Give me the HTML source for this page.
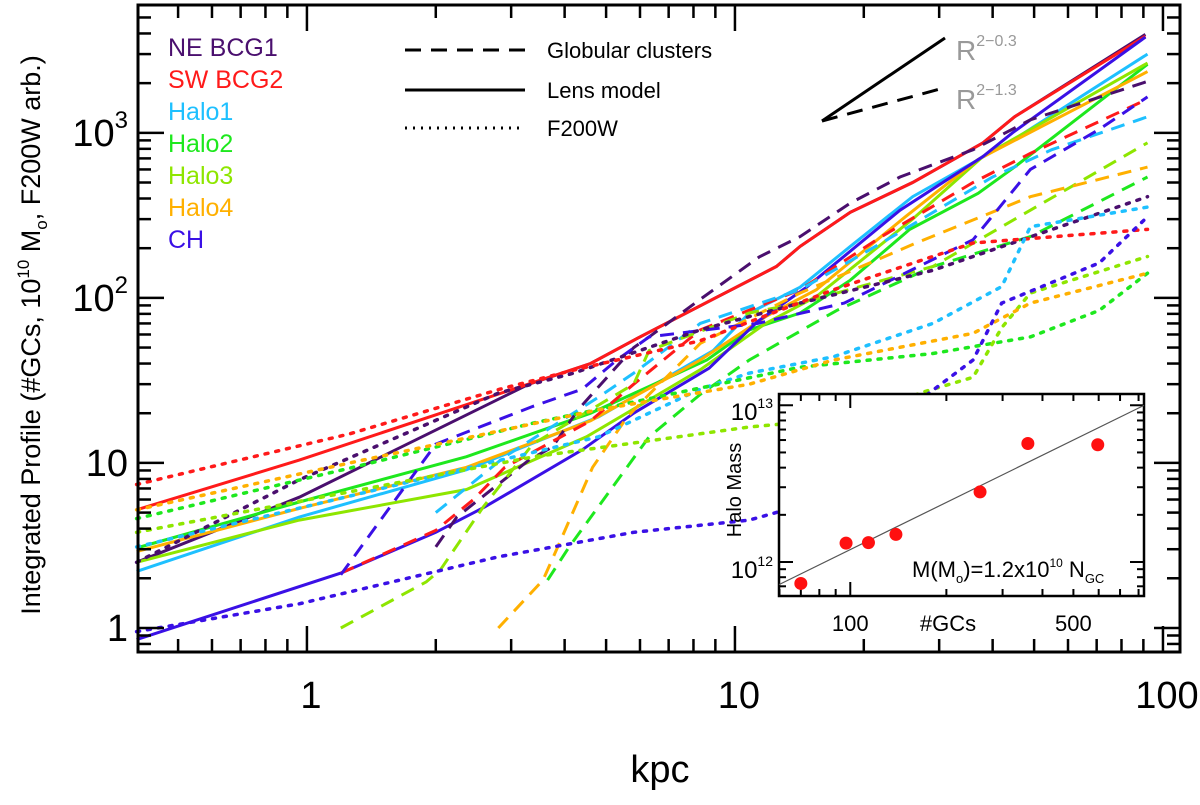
<!DOCTYPE html>
<html><head><meta charset="utf-8"><style>
body{margin:0;background:#fff}
svg text{font-family:"Liberation Sans",sans-serif}
</style></head><body>
<svg id="c" width="1200" height="800" xmlns="http://www.w3.org/2000/svg"></svg>
<script>
const kpc=[0.4,0.96,1.2,2,2.36,2.8,3.4,4.6,5.8,8.3,10.8,14.2,18.6,26,37,49,92];
const sRedX=[0.4,0.96,4.6,6.0,9.0,12.5,14.2,18.6,26,38,45,91];
const sRedY=[5.2,10.4,40,58,100,155,205,330,500,870,1250,3850];
const sPurX=[0.4,0.96,3.3,4.6,6.0,9.0,12.5,14.2,18.6,26,38,45,91];
const sPurY=[2.5,6.2,30,40,58,100,155,205,330,500,870,1250,3950];
const sChX=[0.4,1.2,2.0,2.6,4.4,5.8,8.7,11.3,14.7,24.3,38,44.5,91];
const sChY=[0.85,2.15,3.8,5.4,12,20,37.5,72,116,340,720,1000,3800];
const sH1X=[0.4,0.96,2.36,4.8,8.9,10.8,14.2,18.6,26,44.5,92];
const sH1Y=[2.2,4.7,9.1,19,48,81,116,205,410,900,3000];
const sH2X=[0.4,0.96,2.36,4.6,8.6,10.8,14.2,18.6,25.6,37,45,92];
const sH2Y=[3.05,5.8,10.9,20,42,64,81,128,260,430,620,2600];
const sH3X=[0.4,0.96,2.36,4.5,8.3,11.8,15.5,26,38,92];
const sH3Y=[2.5,4.5,6.9,14.4,36.7,70,102,300,720,2650];
const sH4X=[0.4,0.96,2.36,4.6,8.3,11.8,15.5,25,37,92];
const sH4Y=[2.9,5.3,9.4,18,42,77,112,310,690,2350];
const dPurX=[2.0,2.24,3.3,3.75,4.3,5.8,6.3,8.3,11.4,14.2,18.6,24.3,36,49,92];
const dPurY=[3.1,4.7,10.4,12.5,21,50,58,98,177,235,375,540,790,1200,2050];
const dRedX=[1.2,2.0,2.45,2.9,4.6,5.8,8.3,14.2,22,36,49,92];
const dRedY=[2.15,3.9,6,9.4,18,30,64,112,235,500,750,1600];
const dH1X=[2.0,2.9,4.8,5.8,8.3,14.2,22,40,55,92];
const dH1Y=[5,10.9,25,35,70,112,215,540,790,1250];
const dH2X=[3.65,4.1,6.3,8.3,10.8,17.3,29,49,92];
const dH2Y=[1.95,3.1,14.4,26,42,84,155,235,540];
const dH3X=[1.2,1.9,2.05,2.58,3.37,5.8,6.3,10.8,14.2,29,49,92];
const dH3Y=[1.0,1.9,2.25,5.4,13,30,48,81,93,155,340,870];
const dH4X=[2.8,3.56,3.8,4.65,5.6,6.3,8.3,14.2,26.5,49,92];
const dH4Y=[1.0,1.95,2.85,9.4,19,26,53,107,215,410,620];
const dChX=[1.2,2.0,3.37,4.4,5.3,6.3,11.3,18,36,49,71,92];
const dChY=[2.1,13,22,28,42,58,70,93,225,600,1050,1650];
const pPurX=[0.4,0.96,2.8,4.2,8.3,10.8,14.2,29,92];
const pPurY=[2.5,7.9,26.5,35,64,77,93,147,410];
const pRedX=[0.4,1.26,2.83,4.2,8.3,17,36,92];
const pRedY=[7.4,15,28,36.5,55,112,215,260];
const pH1X=[0.4,4.8,8.3,10.8,17,29,42,49,92];
const pH1Y=[3.1,14.4,28,35,44,70,117,270,355];
const pH2X=[0.4,1.26,3.4,8.6,14.2,29,49,71,92];
const pH2Y=[4.6,9.3,17.5,29,38,46,58,84,141];
const pH3X=[0.4,3.4,10.8,19.6,23,27,36,42,49,92];
const pH3Y=[3.8,10.9,16.5,19,21.5,26.5,33,66,107,178];
const pH4X=[0.4,1.26,4.8,10.8,17,36,49,92];
const pH4Y=[5.2,10,21,30,42,61,93,141];
const pChX=[0.4,0.96,2.8,5.8,10.8,14.2,18,23,27,36,42,71,92];
const pChY=[0.95,1.4,2.7,3.8,4.5,5.5,7.9,13,24,42,93,163,310];
const gcN=[70,97,114,139,255,360,596];
const haloM=[0.73e12,1.32e12,1.33e12,1.5e12,2.8e12,5.7e12,5.6e12];
const fitCoef=1.2e10;
const yTicks=[1,10,100,1000];
const xTicks=[1,10,100];
const legendNames=["NE BCG1","SW BCG2","Halo1","Halo2","Halo3","Halo4","CH"];
const legendColors=["#4a0f6e","#ff1a1a","#1ec0ff","#1ee81e","#8ee600","#ffb000","#3a10e6"];

const NS="http://www.w3.org/2000/svg";
const svg=document.getElementById('c');
const L=138,R=1180,T=5,B=652,XMIN=0.403,XMAX=109.6,YMIN=0.715,YMAX=5950;
const lg=Math.log10;
const xs=v=>L+(lg(v)-lg(XMIN))/(lg(XMAX)-lg(XMIN))*(R-L);
const ys=v=>B-(lg(v)-lg(YMIN))/(lg(YMAX)-lg(YMIN))*(B-T);
function el(t,a,p){const e=document.createElementNS(NS,t);for(const k in a)e.setAttribute(k,a[k]);(p||svg).appendChild(e);return e;}
const series=[
["ne-bcg1-lens",sPurX,sPurY,0,""],["sw-bcg2-lens",sRedX,sRedY,1,""],["halo1-lens",sH1X,sH1Y,2,""],["halo2-lens",sH2X,sH2Y,3,""],["halo3-lens",sH3X,sH3Y,4,""],["halo4-lens",sH4X,sH4Y,5,""],["ch-lens",sChX,sChY,6,""],
["ne-bcg1-gc",dPurX,dPurY,0,"14,9"],["sw-bcg2-gc",dRedX,dRedY,1,"14,9"],["halo1-gc",dH1X,dH1Y,2,"14,9"],["halo2-gc",dH2X,dH2Y,3,"14,9"],["halo3-gc",dH3X,dH3Y,4,"14,9"],["halo4-gc",dH4X,dH4Y,5,"14,9"],["ch-gc",dChX,dChY,6,"14,9"],
["ne-bcg1-f200w",pPurX,pPurY,0,"3,8"],["sw-bcg2-f200w",pRedX,pRedY,1,"3,8"],["halo1-f200w",pH1X,pH1Y,2,"3,8"],["halo2-f200w",pH2X,pH2Y,3,"3,8"],["halo3-f200w",pH3X,pH3Y,4,"3,8"],["halo4-f200w",pH4X,pH4Y,5,"3,8"],["ch-f200w",pChX,pChY,6,"3,8"]];
const g=el('g',{});


series.forEach(s=>{
  const d=s[1].map((x,i)=>(i?'L':'M')+xs(x).toFixed(1)+','+ys(s[2][i]).toFixed(1)).join('');
  const p=el('path',{d:d,fill:'none',stroke:legendColors[s[3]],'stroke-width':s[4]=="3,8"?3.5:3,'stroke-dasharray':s[4],'stroke-linecap':s[4]=="3,8"?'round':'butt'},g);
  
  
});
// axes box
const box=el('rect',{x:L,y:T,width:R-L,height:B-T,fill:'none',stroke:'#000','stroke-width':3});


for(let e=-1;e<=3;e++)for(let m=1;m<10;m++){const v=m*Math.pow(10,e);if(v<YMIN||v>YMAX)continue;const y=ys(v);const len=m==1?26:13;
 el('line',{x1:L,x2:L+len,y1:y,y2:y,stroke:'#000','stroke-width':2.5});el('line',{x1:R,x2:R-len,y1:y,y2:y,stroke:'#000','stroke-width':2.5});}
for(let e=-1;e<=2;e++)for(let m=1;m<10;m++){const v=m*Math.pow(10,e);if(v<XMIN||v>XMAX)continue;const x=xs(v);const len=m==1?26:13;
 el('line',{x1:x,x2:x,y1:B,y2:B-len,stroke:'#000','stroke-width':2.5});el('line',{x1:x,x2:x,y1:T,y2:T+len,stroke:'#000','stroke-width':2.5});}
yTicks.forEach(v=>{const t=el('text',{x:128,y:ys(v)+13,'font-size':38,'text-anchor':'end'});
 
 
 if(v>=100){t.textContent='10';const s=el('tspan',{'font-size':24,dy:-18},t);s.textContent=String(lg(v));}else t.textContent=String(v);});
xTicks.forEach(v=>{const t=el('text',{x:xs(v)+4,y:708,'font-size':38,'text-anchor':'middle'});t.textContent=String(v);
 
 });
const xt=el('text',{x:660,y:782,'font-size':38,'text-anchor':'middle'});xt.textContent='kpc';


const yt=el('text',{x:0,y:0,'font-size':27,'text-anchor':'middle',transform:'translate(40,335) rotate(-90)'});


yt.innerHTML='Integrated Profile (#GCs, 10<tspan font-size="17" dy="-11">10</tspan><tspan dy="11"> M</tspan><tspan font-size="17" dy="7">o</tspan><tspan dy="-7">, F200W arb.)</tspan>';
// legend
legendNames.forEach((n,i)=>{const t=el('text',{x:168,y:56+i*32,'font-size':25,fill:legendColors[i]});t.textContent=n;
 
 });
[["Globular clusters","16,10",50],["Lens model","",90],["F200W","2,6",128]].forEach(a=>{
 el('line',{x1:405,x2:525,y1:a[2],y2:a[2],stroke:'#000','stroke-width':3,'stroke-dasharray':a[1]});
 const t=el('text',{x:547,y:a[2]+8,'font-size':22});t.textContent=a[0];
 
 });
el('line',{x1:822,y1:121,x2:945,y2:38,stroke:'#000','stroke-width':3});
el('line',{x1:822,y1:121,x2:940,y2:89,stroke:'#000','stroke-width':3,'stroke-dasharray':'16,10'});
[["2−0.3",45],["2−1.3",94]].forEach(a=>{const t=el('text',{x:956,y:a[1]+15,'font-size':28,fill:'#999'});t.innerHTML='R<tspan font-size="16" dy="-14">'+a[0]+'</tspan>';
 
 });
// inset
const IL=779,IR=1144,IT=394,IB=596,NMIN=59.8,NMAX=832,MMIN=6.07e11,MMAX=1.18e13;
const ix=v=>IL+(lg(v)-lg(NMIN))/(lg(NMAX)-lg(NMIN))*(IR-IL);
const iy=v=>IB-(lg(v)-lg(MMIN))/(lg(MMAX)-lg(MMIN))*(IB-IT);
const ib=el('rect',{x:IL,y:IT,width:IR-IL,height:IB-IT,fill:'#fff',stroke:'#000','stroke-width':2.5});


for(let e=11;e<=13;e++)for(let m=1;m<10;m++){const v=m*Math.pow(10,e);if(v<MMIN||v>MMAX)continue;const y=iy(v),len=m==1?14:7;
 el('line',{x1:IL,x2:IL+len,y1:y,y2:y,stroke:'#000','stroke-width':2});el('line',{x1:IR,x2:IR-len,y1:y,y2:y,stroke:'#000','stroke-width':2});}
for(let e=1;e<=2;e++)for(let m=1;m<10;m++){const v=m*Math.pow(10,e);if(v<NMIN||v>NMAX)continue;const x=ix(v),len=m==1?14:7;
 el('line',{x1:x,x2:x,y1:IB,y2:IB-len,stroke:'#000','stroke-width':2});el('line',{x1:x,x2:x,y1:IT,y2:IT+len,stroke:'#000','stroke-width':2});}
const fl=el('line',{x1:ix(NMIN),y1:iy(fitCoef*NMIN),x2:ix(NMAX),y2:iy(fitCoef*NMAX),stroke:'#555','stroke-width':1.2});


gcN.forEach((n,i)=>{const c=el('circle',{cx:ix(n),cy:iy(haloM[i]),r:6.5,fill:'#ff1010'});
 
 });
[[13,412],[12,570]].forEach(a=>{const t=el('text',{x:773,y:a[1]+8,'font-size':24,'text-anchor':'end'});t.innerHTML='10<tspan font-size="14" dy="-12">'+a[0]+'</tspan>';
 
 });
[["100",100],["500",500]].forEach(a=>{const t=el('text',{x:ix(a[1]),y:631,'font-size':22,'text-anchor':'middle'});t.textContent=a[0];
 
 });
const gx=el('text',{x:948,y:631,'font-size':22,'text-anchor':'middle'});gx.textContent='#GCs';


const hm=el('text',{x:0,y:0,'font-size':20,'text-anchor':'middle',transform:'translate(741,490) rotate(-90)'});hm.textContent='Halo Mass';


const fm=el('text',{x:912,y:577,'font-size':22});


fm.innerHTML='M(M<tspan font-size="13" dy="6">o</tspan><tspan dy="-6">)=1.2x10</tspan><tspan font-size="12" dy="-10">10</tspan><tspan dy="10"> N</tspan><tspan font-size="13" dy="6">GC</tspan>';
</script>
</body></html>
